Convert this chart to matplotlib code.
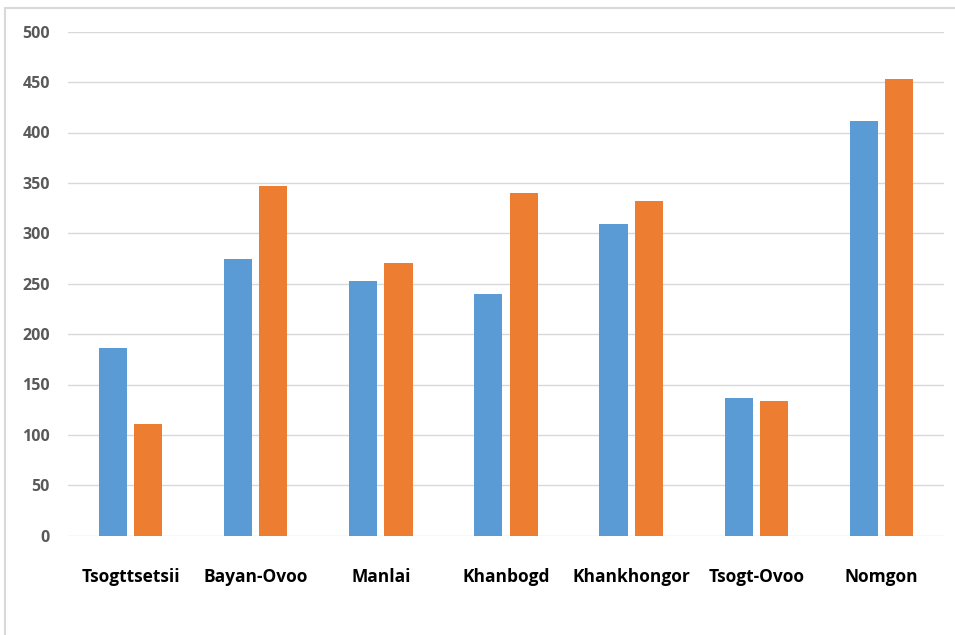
import numpy as np
import matplotlib.pyplot as plt
from matplotlib.patches import Rectangle

districts = ["Tsogttsetsii", "Bayan-Ovoo", "Manlai", "Khanbogd",
             "Khankhongor", "Tsogt-Ovoo", "Nomgon"]
series_a = [186, 275, 253, 240, 309, 137, 411]
series_b = [111, 347, 271, 340, 332, 134, 453]
yticks = np.arange(0, 501, 50)

plt.rcParams['font.family'] = ['Open Sans', 'DejaVu Sans']

fig = plt.figure(figsize=(9.55, 6.35), dpi=100)
ax = fig.add_axes([68 / 955, 1 - 535.7 / 635, 876 / 955, 504 / 635])

x = np.arange(len(districts))
w = 0.224
gap = 0.058
ax.bar(x - (w + gap) / 2, series_a, width=w, color='#5B9BD5', zorder=3)
ax.bar(x + (w + gap) / 2, series_b, width=w, color='#ED7D31', zorder=3)

ax.set_xlim(-0.5, len(districts) - 0.5)
ax.set_ylim(0, 500)
ax.set_yticks(yticks)
ax.set_yticklabels([str(v) for v in yticks], fontsize=11.5, fontweight='bold',
                   color='#595959')
ax.set_xticks(x)
ax.set_xticklabels(districts, fontsize=12.5, fontweight='bold', color='black')
ax.tick_params(axis='both', length=0)
ax.tick_params(axis='x', pad=23)
ax.tick_params(axis='y', pad=13)
ax.grid(axis='y', color='#D9D9D9', linewidth=1, zorder=0)
for s in ax.spines.values():
    s.set_visible(False)

# chart-area border (runs off right and bottom like the screenshot)
fig.patches.append(Rectangle((5 / 955, -0.05), 1.1, 1 - 7.5 / 635 + 0.05,
                             transform=fig.transFigure, fill=False,
                             edgecolor='#D9D9D9', linewidth=1.5))

fig.savefig("out.png", dpi=100)
